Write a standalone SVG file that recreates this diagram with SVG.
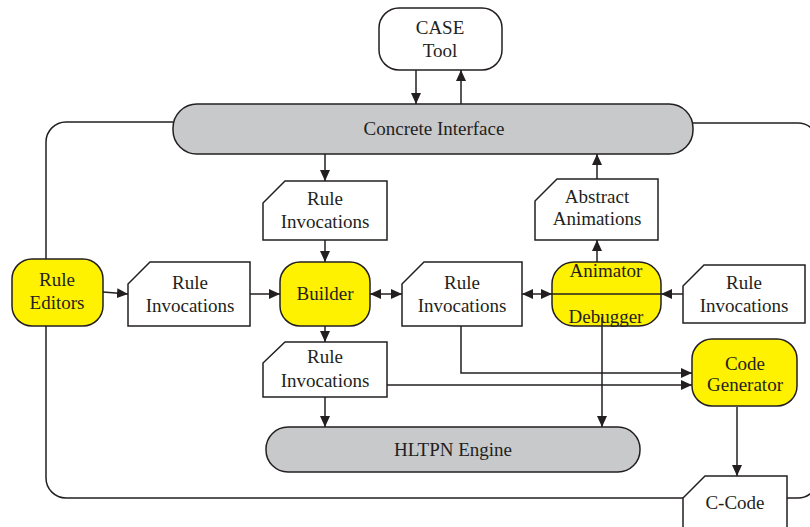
<svg xmlns="http://www.w3.org/2000/svg" width="810" height="527" viewBox="0 0 810 527" font-family="'Liberation Serif', 'DejaVu Serif', serif">
  <defs>
    <marker id="arrow" markerUnits="userSpaceOnUse" markerWidth="12" markerHeight="12" viewBox="0 0 12 12" refX="11" refY="6" orient="auto-start-reverse">
      <path d="M0,1 L11,6 L0,11 Z" fill="#231f20"/>
    </marker>
  </defs>
  <style>
    .box { fill: #ffffff; stroke: #231f20; stroke-width: 1.5; }
    .yel { fill: #fff200; stroke: #231f20; stroke-width: 1.5; }
    .gry { fill: #c8c9cb; stroke: #231f20; stroke-width: 1.5; }
    .ln { fill: none; stroke: #231f20; stroke-width: 1.5; }
    .arr { fill: none; stroke: #231f20; stroke-width: 1.5; marker-end: url(#arrow); }
    .dbl { fill: none; stroke: #231f20; stroke-width: 1.5; marker-start: url(#arrow); marker-end: url(#arrow); }
    text { font-family: "Liberation Serif", "DejaVu Serif", serif; font-size: 19px; fill: #231f20; text-anchor: middle; }
  </style>

  <!-- outer loop lines (drawn first so nodes sit on top) -->
  <g id="connectors-back">
    <path class="ln" d="M173,122 H66 A20,20 0 0 0 46,142 V478 A20,20 0 0 0 66,498 H683"/>
    <path class="ln" d="M693,123 H798 A20,20 0 0 1 818,143"/>
    <path class="ln" d="M787,498 H798 A20,20 0 0 0 818,478"/>
  </g>

  <g id="case-tool">
    <rect class="box" x="379" y="8" width="123" height="62" rx="20"/>
    <text x="440" y="34">CASE</text>
    <text x="440" y="57">Tool</text>
  </g>

  <g id="concrete-interface">
    <rect class="gry" x="173" y="104" width="520" height="50" rx="24"/>
    <text x="434" y="135">Concrete Interface</text>
  </g>

  <g id="rule-editors">
    <rect class="yel" x="12" y="259" width="91" height="67" rx="20"/>
    <text x="57" y="286">Rule</text>
    <text x="57" y="309">Editors</text>
  </g>

  <g id="rule-invocations-left">
    <path class="box" d="M150,262 H250 V326 H128 V284 Z"/>
    <text x="190" y="289">Rule</text>
    <text x="190" y="312">Invocations</text>
  </g>

  <g id="builder">
    <rect class="yel" x="280" y="262" width="90" height="64" rx="20"/>
    <text x="325" y="300">Builder</text>
  </g>

  <g id="rule-invocations-top">
    <path class="box" d="M285,181 H387 V240 H263 V203 Z"/>
    <text x="325" y="205">Rule</text>
    <text x="325" y="228">Invocations</text>
  </g>

  <g id="rule-invocations-lower">
    <path class="box" d="M285,342 H387 V397 H263 V363 Z"/>
    <text x="325" y="363">Rule</text>
    <text x="325" y="387">Invocations</text>
  </g>

  <g id="rule-invocations-middle">
    <path class="box" d="M424,262 H522 V326 H402 V284 Z"/>
    <text x="462" y="289">Rule</text>
    <text x="462" y="312">Invocations</text>
  </g>

  <g id="animator-debugger">
    <rect class="yel" x="552" y="262" width="109" height="64" rx="22"/>
    <text x="606" y="277">Animator</text>
    <text x="606" y="323">Debugger</text>
  </g>

  <g id="abstract-animations">
    <path class="box" d="M557,179 H658 V240 H535 V201 Z"/>
    <text x="597" y="203">Abstract</text>
    <text x="597" y="225">Animations</text>
  </g>

  <g id="rule-invocations-right">
    <path class="box" d="M704,265 H805 V323 H683 V286 Z"/>
    <text x="744" y="289">Rule</text>
    <text x="744" y="312">Invocations</text>
  </g>

  <g id="hltpn-engine">
    <rect class="gry" x="266" y="427" width="374" height="45" rx="22"/>
    <text x="453" y="456">HLTPN Engine</text>
  </g>

  <g id="code-generator">
    <rect class="yel" x="692" y="339" width="105" height="67" rx="20"/>
    <text x="745" y="370">Code</text>
    <text x="745" y="391">Generator</text>
  </g>

  <g id="c-code">
    <path class="box" d="M683,540 V498 L705,476 H787 V540"/>
    <text x="735" y="509">C-Code</text>
  </g>

  <g id="connectors">
    <!-- CASE tool <-> concrete interface -->
    <line class="arr" x1="416" y1="70" x2="416" y2="104"/>
    <line class="arr" x1="461" y1="104" x2="461" y2="70"/>
    <!-- concrete interface -> rule invocations -> builder -->
    <line class="arr" x1="325" y1="154" x2="325" y2="181"/>
    <line class="arr" x1="325" y1="240" x2="325" y2="262"/>
    <!-- rule editors -> rule invocations -> builder -->
    <line class="arr" x1="103" y1="292" x2="128" y2="294"/>
    <line class="arr" x1="250" y1="294" x2="280" y2="294"/>
    <!-- builder <-> rule invocations <-> animator -->
    <line class="dbl" x1="370" y1="294" x2="402" y2="294"/>
    <line class="dbl" x1="522" y1="294" x2="552" y2="294"/>
    <!-- line across animator / debugger -->
    <line class="ln" x1="552" y1="294" x2="661" y2="294"/>
    <line class="arr" x1="683" y1="294" x2="661" y2="294"/>
    <!-- animator -> abstract animations -> concrete interface -->
    <line class="arr" x1="597" y1="262" x2="597" y2="240"/>
    <line class="arr" x1="597" y1="179" x2="597" y2="154"/>
    <!-- builder -> rule invocations -> HLTPN engine -->
    <line class="arr" x1="325" y1="326" x2="325" y2="342"/>
    <line class="arr" x1="325" y1="397" x2="325" y2="427"/>
    <!-- debugger -> HLTPN engine -->
    <line class="arr" x1="602" y1="317" x2="602" y2="427"/>
    <!-- rule invocations -> code generator -->
    <path class="arr" d="M461,326 V373 H692"/>
    <line class="arr" x1="387" y1="385" x2="692" y2="385"/>
    <!-- code generator -> C-code -->
    <line class="arr" x1="737" y1="407" x2="737" y2="476"/>
  </g>
</svg>
